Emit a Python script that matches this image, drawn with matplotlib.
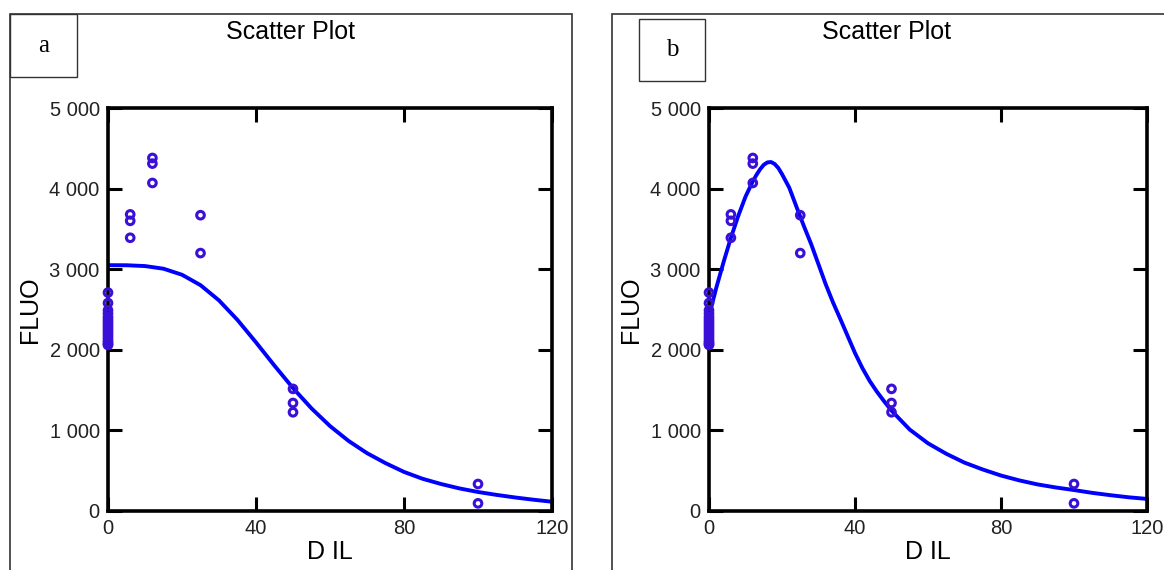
import matplotlib.pyplot as plt
from matplotlib.patches import Rectangle

plt.rcParams['font.family'] = ['Liberation Sans', 'DejaVu Sans']

# measured points (same data in both panels)
dil_pts = [0] * 18 + [6, 6, 6, 12, 12, 12, 25, 25, 50, 50, 50, 100, 100]
fluo_pts = [2710, 2580, 2490, 2450, 2410, 2380, 2350, 2320, 2290, 2260, 2230, 2200, 2170,
            2140, 2110, 2090, 2070, 2060,
            3680, 3600, 3390, 4380, 4310, 4070, 3670, 3200, 1515, 1340, 1225, 335, 95]

# fitted curve, panel a
fit_a_x = [0, 5, 10, 15, 20, 25, 30, 35, 40, 45, 50, 55, 60, 65, 70, 75, 80, 85, 90, 95,
           100, 105, 110, 115, 120]
fit_a_y = [3050, 3049, 3039, 3006, 2931, 2802, 2613, 2370, 2092, 1803, 1525, 1273, 1054,
           870, 718, 594, 485, 400, 335, 280, 236, 200, 168, 140, 115]

# fitted curve, panel b
fit_b_x = [0, 2, 4, 6, 8, 10, 12, 13, 14, 15, 16, 17, 18, 19, 20, 22, 24, 26, 28, 30, 32,
           34, 36, 38, 40, 42, 44, 46, 48, 50, 55, 60, 65, 70, 75, 80, 85, 90, 95, 100,
           105, 110, 115, 120]
fit_b_y = [2420, 2770, 3090, 3390, 3660, 3900, 4090, 4170, 4240, 4295, 4325, 4330, 4305,
           4255, 4180, 4010, 3770, 3534, 3310, 3060, 2810, 2585, 2380, 2170, 1960, 1775,
           1615, 1480, 1360, 1245, 1010, 840, 710, 600, 515, 440, 380, 330, 292, 260, 225,
           196, 170, 150]

xticks = [0, 40, 80, 120]
yticks = [0, 1000, 2000, 3000, 4000, 5000]
yticklabels = ['0', '1 000', '2 000', '3 000', '4 000', '5 000']

W, H = 1164, 570
fig = plt.figure(figsize=(W / 100, H / 100), dpi=100)


def px(x0, y0, x1, y1):
    # pixel box -> figure fraction [left, bottom, width, height]
    return [x0 / W, 1 - y1 / H, (x1 - x0) / W, (y1 - y0) / H]


panels = [
    dict(frame=(10, 14, 572, 575), box=(10, 14, 77, 77), letter='a',
         ax=(108, 108, 552, 511), fx=fit_a_x, fy=fit_a_y),
    dict(frame=(612, 14, 1175, 575), box=(639, 19, 705, 81), letter='b',
         ax=(709, 108, 1147, 511), fx=fit_b_x, fy=fit_b_y),
]

for p in panels:
    fx0, fy0, fx1, fy1 = p['frame']
    fig.patches.append(Rectangle((fx0 / W, 1 - fy1 / H), (fx1 - fx0) / W, (fy1 - fy0) / H,
                                 transform=fig.transFigure, fill=False,
                                 edgecolor='#333333', linewidth=1.2))
    bx0, by0, bx1, by1 = p['box']
    fig.patches.append(Rectangle((bx0 / W, 1 - by1 / H), (bx1 - bx0) / W, (by1 - by0) / H,
                                 transform=fig.transFigure, fill=False,
                                 edgecolor='#333333', linewidth=1.0))
    fig.text((bx0 + bx1) / 2 / W, 1 - (by0 + by1) / 2 / H, p['letter'],
             family='Liberation Serif', fontsize=18, ha='center', va='center')
    fig.text((fx0 + min(fx1, 1162)) / 2 / W, 1 - 32 / H, 'Scatter Plot',
             fontsize=18, ha='center', va='center')

    ax = fig.add_axes(px(*p['ax']))
    ax.plot(p['fx'], p['fy'], color='#0000ff', linewidth=2.8, zorder=2)
    ax.scatter(dil_pts, fluo_pts, s=30, facecolors='none', edgecolors='#3a10d8',
               linewidths=2.2, zorder=3, clip_on=False)
    ax.set_xlim(0, 120)
    ax.set_ylim(0, 5000)
    ax.set_xticks(xticks)
    ax.set_yticks(yticks)
    ax.set_yticklabels(yticklabels)
    ax.tick_params(direction='in', length=10, width=2.2, labelsize=14.5, pad=6,
                   top=True, right=True, colors='black', labelcolor='#222222')
    for s in ax.spines.values():
        s.set_linewidth(2.6)
    ax.set_xlabel('D IL', fontsize=18, labelpad=1)
    ax.set_ylabel('FLUO', fontsize=18, labelpad=5)

fig.savefig('out.png', dpi=100)
